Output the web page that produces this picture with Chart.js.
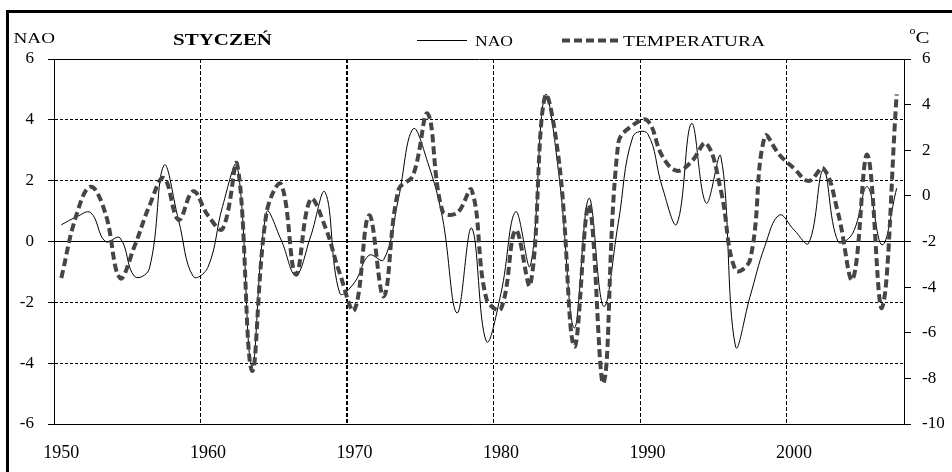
<!DOCTYPE html>
<html>
<head>
<meta charset="utf-8">
<script src="https://cdn.jsdelivr.net/npm/chart.js@4.4.1/dist/chart.umd.min.js"></script>
<style>
  html, body { margin: 0; padding: 0; background: #fff; }
  #wrap { position: relative; width: 952px; height: 472px; overflow: hidden; }
  #frame { position: absolute; left: 6px; top: 10px; width: 960px; height: 480px;
           border-left: 3px solid #000; border-top: 3px solid #000; pointer-events: none; }
  canvas { position: absolute; left: 0; top: 0; }
</style>
</head>
<body>
<div id="wrap">
  <canvas id="chart" width="952" height="472"></canvas>
  <div id="frame"></div>
</div>
<script>
const years = [
  '1950','1951','1952','1953','1954','1955','1956','1957','1958','1959',
  '1960','1961','1962','1963','1964','1965','1966','1967','1968','1969',
  '1970','1971','1972','1973','1974','1975','1976','1977','1978','1979',
  '1980','1981','1982','1983','1984','1985','1986','1987','1988','1989',
  '1990','1991','1992','1993','1994','1995','1996','1997','1998','1999',
  '2000','2001','2002','2003','2004','2005','2006','2007'
];
const xTickLabels = ['1950', '1960', '1970', '1980', '1990', '2000'];

// NAO index, January
const naoValues = [
   0.55,  0.80,  0.95,  0.00,  0.12, -1.15, -0.90,  2.50,  0.70, -1.15,
  -0.85,  1.15,  2.50, -4.10,  0.95,  0.05, -1.10,  0.15,  1.62, -1.70,
  -1.35, -0.45, -0.60,  1.40,  3.70,  2.60,  0.80, -2.35,  0.44, -3.28,
  -1.70,  0.98, -0.80,  4.80,  2.00, -2.84,  1.42, -2.13,  0.60,  3.45,
   3.55,  1.80,  0.58,  3.88,  1.26,  2.80, -3.44, -1.80, -0.16,  0.87,
   0.38, -0.05,  2.35,  0.00,  0.27,  1.80, -0.11,  1.75
];

// mean January temperature, deg C
const tempValues = [
  -3.60, -0.90,  0.40, -0.75, -3.60, -2.20, -0.45,  0.78, -1.05,  0.20,
  -0.85, -1.45,  1.37, -7.65, -0.75,  0.50, -3.45, -0.15, -1.35, -3.40,
  -5.00, -0.85, -4.40,  0.25,  0.90,  3.60, -0.65, -0.75,  0.25, -4.50,
  -4.95, -1.50, -3.90,  4.35,  1.30, -6.60, -0.40, -8.20,  2.30,  3.10,
   3.30,  1.75,  1.10,  1.50,  2.30,  0.25, -3.25, -2.80,  2.60,  1.80,
   1.20,  0.65,  1.20, -0.75, -3.65,  1.80, -4.90,  4.45
];

const FONT = "'Liberation Serif', 'Times New Roman', serif";
const tempColor = '#454545';
const tempDash = [8, 4];

Chart.defaults.font.family = FONT;
Chart.defaults.color = '#000';

function fitText(ctx, text, x, y, width, font) {
  ctx.font = font;
  const w = ctx.measureText(text).width;
  ctx.save();
  ctx.translate(x, y);
  ctx.scale(width / w, 1);
  ctx.fillText(text, 0, 0);
  ctx.restore();
}

const headerTexts = {
  id: 'headerTexts',
  afterDraw(chart) {
    const ctx = chart.ctx;
    ctx.save();
    ctx.fillStyle = '#000';
    ctx.textBaseline = 'alphabetic';
    ctx.textAlign = 'left';

    fitText(ctx, 'NAO', 13.5, 43, 41.5, `15px ${FONT}`);
    fitText(ctx, 'STYCZEŃ', 173, 44.5, 99, `bold 17px ${FONT}`);

    // legend
    ctx.strokeStyle = '#000';
    ctx.lineWidth = 1;
    ctx.beginPath();
    ctx.moveTo(417, 40.5);
    ctx.lineTo(467, 40.5);
    ctx.stroke();
    fitText(ctx, 'NAO', 475, 45.5, 38, `15px ${FONT}`);

    ctx.strokeStyle = tempColor;
    ctx.lineWidth = 4;
    ctx.setLineDash(tempDash);
    ctx.beginPath();
    ctx.moveTo(562, 40.5);
    ctx.lineTo(619, 40.5);
    ctx.stroke();
    ctx.setLineDash([]);
    fitText(ctx, 'TEMPERATURA', 623, 45.5, 142, `15px ${FONT}`);

    // right axis unit
    fitText(ctx, 'o', 909.5, 33.5, 6, `11px ${FONT}`);
    fitText(ctx, 'C', 915.5, 42.7, 14, `17px ${FONT}`);
    ctx.restore();
  }
};

new Chart(document.getElementById('chart'), {
  type: 'line',
  data: {
    labels: years,
    datasets: [
      {
        label: 'TEMPERATURA',
        data: tempValues,
        yAxisID: 'y1',
        borderColor: tempColor,
        borderWidth: 4,
        borderDash: tempDash,
        pointRadius: 0,
        tension: 0.4,
        fill: false,
        order: 0
      },
      {
        label: 'NAO',
        data: naoValues,
        yAxisID: 'y',
        borderColor: '#000',
        borderWidth: 1,
        pointRadius: 0,
        tension: 0.4,
        fill: false,
        order: 1
      }
    ]
  },
  options: {
    responsive: false,
    animation: false,
    layout: { padding: { top: 59, left: 0, right: 0, bottom: 0 } },
    plugins: {
      legend: { display: false },
      title: { display: false },
      tooltip: { enabled: false }
    },
    scales: {
      x: {
        type: 'category',
        offset: true,
        afterFit: s => { s.height = 48; },
        grid: {
          offset: true,
          drawTicks: false,
          color: c => (c.index > 0 && c.index < years.length && c.index % 10 === 0) ? '#000' : 'rgba(0,0,0,0)',
          lineWidth: c => c.index === 20 ? 2 : 1
        },
        border: { display: true, color: '#000', width: 1, dash: [4, 2] },
        ticks: {
          autoSkip: false,
          maxRotation: 0,
          padding: 18,
          font: { size: 18 },
          callback: (v, i) => xTickLabels.includes(years[i]) ? years[i] : ''
        }
      },
      y: {
        position: 'left',
        min: -6,
        max: 6,
        afterFit: s => { s.width = 54; },
        grid: {
          color: '#000',
          lineWidth: 1,
          tickLength: 6,
          tickColor: '#000'
        },
        border: {
          display: true,
          color: '#000',
          width: 1,
          dash: c => (c.tick && c.tick.value % 6 === 0) ? [] : [3, 2]
        },
        ticks: { stepSize: 2, padding: 14, font: { size: 17 } }
      },
      y1: {
        position: 'right',
        min: -10,
        max: 6,
        afterFit: s => { s.width = 48; },
        grid: {
          drawOnChartArea: false,
          tickLength: 7,
          tickColor: '#000'
        },
        border: { display: true, color: '#000', width: 1 },
        ticks: { stepSize: 2, padding: 11, font: { size: 17 } }
      }
    }
  },
  plugins: [headerTexts]
});
</script>
</body>
</html>
